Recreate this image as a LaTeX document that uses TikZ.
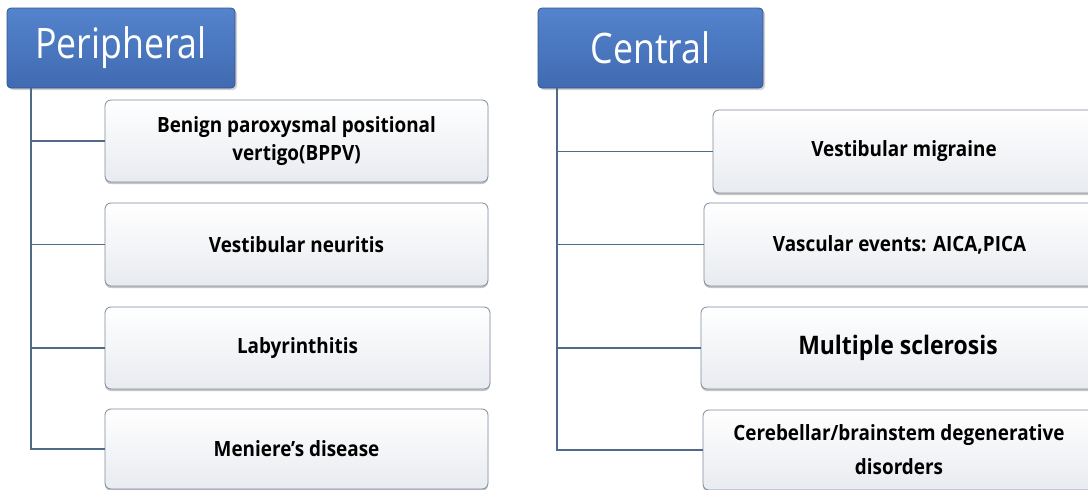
\documentclass[tikz,border=0pt]{standalone}
\usepackage{fontspec}
\setmainfont{Open Sans}
\newfontfamily\headfont[FakeStretch=0.85]{Open Sans}
\newfontfamily\itemfont[FakeStretch=0.9]{Open Sans}
\usetikzlibrary{shadows}

\definecolor{headtop}{RGB}{84,132,204}
\definecolor{headbot}{RGB}{64,106,178}
\definecolor{headedge}{RGB}{50,84,140}
\definecolor{boxedge}{RGB}{125,140,158}
\definecolor{boxshade}{RGB}{232,235,240}
\definecolor{linkblue}{RGB}{80,106,138}

\tikzset{
 headbox/.style={draw=headedge, line width=0.8pt, rounded corners=4pt,
   top color=headtop, bottom color=headbot,
   text=white, font=\headfont\fontsize{42}{42}\selectfont,
   minimum height=80pt, inner sep=0pt,
   drop shadow={shadow xshift=2pt, shadow yshift=-2pt, opacity=0.35}},
 itembox/.style={draw=boxedge, line width=0.8pt, rounded corners=6pt,
   top color=white, bottom color=boxshade,
   font=\itemfont\bfseries\fontsize{21}{28}\selectfont, align=center,
   inner sep=0pt,
   drop shadow={shadow xshift=0pt, shadow yshift=-2pt, opacity=0.45}},
 link/.style={draw=linkblue, line width=1.5pt}
}

\begin{document}
\begin{tikzpicture}[x=1pt,y=-1pt]
 \useasboundingbox (0,0) rectangle (1088,490);
 \clip (0,0) rectangle (1088,490);
 \fill[white] (0,0) rectangle (1088,490);

 % left column
 \node[headbox, minimum width=228pt] (periph) at (121,48) {Peripheral};
 \node[itembox, minimum width=383pt, minimum height=82pt] (bppv) at (296.5,141) {Benign paroxysmal positional\\vertigo(BPPV)};
 \node[itembox, minimum width=383pt, minimum height=83pt] (neuritis) at (296.5,244.5) {Vestibular neuritis};
 \node[itembox, minimum width=385pt, minimum height=82pt] (laby) at (297.5,348) {Labyrinthitis};
 \node[itembox, minimum width=383pt, minimum height=80pt] (meniere) at (296.5,449) {Meniere’s disease};

 % right column
 \node[headbox, minimum width=225pt] (central) at (650.5,48) {Central};
 \node[itembox, minimum width=382pt, minimum height=83pt] (migraine) at (904,151.5) {Vestibular migraine};
 \node[itembox, minimum width=391pt, minimum height=83pt] (vascular) at (899.5,244.5) {Vascular events: AICA,PICA};
 \node[itembox, minimum width=394pt, minimum height=82pt, font=\itemfont\bfseries\fontsize{25.5}{26}\selectfont] (ms) at (898,348) {Multiple sclerosis};
 \node[itembox, minimum width=392pt, minimum height=80pt] (cereb) at (899,450) {Cerebellar/brainstem degenerative\\[6pt]disorders};

 % connectors
 \coordinate (ltrunk) at (31,88);
 \coordinate (rtrunk) at (557,88);
 \draw[link] (ltrunk) |- (meniere.west);
 \draw[link] (ltrunk |- bppv.west) -- (bppv.west);
 \draw[link] (ltrunk |- neuritis.west) -- (neuritis.west);
 \draw[link] (ltrunk |- laby.west) -- (laby.west);
 \draw[link] (rtrunk) |- (cereb.west);
 \draw[link] (rtrunk |- migraine.west) -- (migraine.west);
 \draw[link] (rtrunk |- vascular.west) -- (vascular.west);
 \draw[link] (rtrunk |- ms.west) -- (ms.west);
\end{tikzpicture}
\end{document}
